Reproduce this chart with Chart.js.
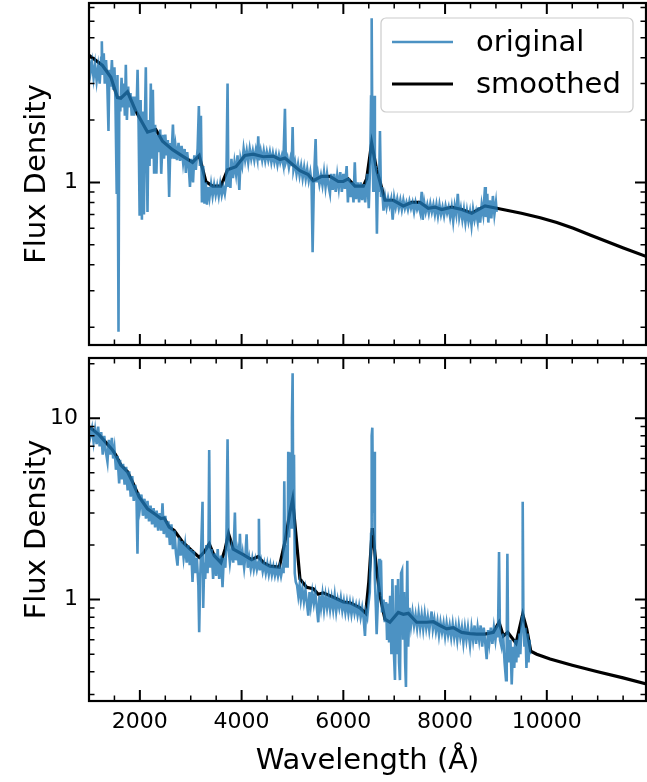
<!DOCTYPE html>
<html>
<head>
<meta charset="utf-8">
<script src="https://cdn.jsdelivr.net/npm/chart.js@4/dist/chart.umd.min.js"></script>
<style>
    body { margin: 0; background: #fff; }
    #wrap { position: relative; width: 647px; height: 782px; }
    canvas { position: absolute; left: 0; }
</style>
</head>
<body>
<div id="wrap">
    <canvas id="canvas1" width="647" height="350" style="top:0;width:647px;height:350px"></canvas>
    <canvas id="canvas2" width="647" height="432" style="top:350px;width:647px;height:432px"></canvas>
</div>
<script>
'use strict';

// axis ticks
const xTicks = [1500, 2000, 2500, 3000, 3500, 4000, 4500, 5000, 5500, 6000, 6500, 7000, 7500, 8000, 8500, 9000, 9500, 10000, 10500, 11000, 11500];
const yTicksTop = [0.2, 0.3, 0.4, 0.5, 0.6, 0.7, 0.8, 0.9, 1, 2, 3, 4, 5, 6, 7];
const yTicksBottom = [0.3, 0.4, 0.5, 0.6, 0.7, 0.8, 0.9, 1, 2, 3, 4, 5, 6, 7, 8, 9, 10, 20];

// top panel: [wavelength, flux]
const topOriginal = [
    [1005, 3.9], [1030, 3.4], [1060, 3.8], [1090, 3.2], [1120, 3.7], [1150, 3.1], [1180, 3.6], [1210, 3.0],
    [1240, 4.0], [1252, 4.8], [1265, 3.3], [1290, 4.2], [1310, 3.0], [1335, 3.9], [1360, 3.0], [1383, 1.77],
    [1400, 3.5], [1425, 2.9], [1450, 3.9], [1475, 2.8], [1500, 3.6], [1520, 2.5], [1545, 0.88], [1560, 3.3],
    [1580, 0.19], [1595, 2.6], [1615, 2.2], [1640, 3.2], [1660, 2.3], [1685, 3.0], [1705, 2.1], [1724, 3.7],
    [1745, 2.0], [1770, 2.9], [1790, 2.3], [1815, 2.7], [1840, 2.1], [1860, 2.6], [1885, 2.1], [1905, 2.6],
    [1935, 2.2], [1955, 3.5], [1975, 1.9], [1995, 0.69], [2015, 2.5], [2040, 0.66], [2060, 2.2], [2080, 0.70],
    [2100, 2.0], [2117, 3.6], [2135, 1.4], [2150, 0.72], [2170, 2.0], [2190, 1.2], [2215, 3.0], [2235, 1.3],
    [2255, 2.8], [2280, 1.1], [2300, 1.9], [2325, 1.1], [2345, 1.7], [2375, 1.4], [2400, 1.8], [2420, 1.1],
    [2450, 1.7], [2475, 1.3], [2500, 1.7], [2525, 1.35], [2550, 1.6], [2576, 0.85], [2600, 1.55], [2620, 1.3],
    [2650, 1.9], [2675, 1.3], [2700, 1.5], [2730, 1.28], [2760, 1.55], [2790, 1.27], [2820, 1.5], [2850, 1.25],
    [2880, 1.45], [2904, 1.11], [2930, 1.4], [2960, 1.2], [2985, 0.95], [3010, 1.3], [3045, 1.0], [3070, 1.35],
    [3100, 1.15], [3135, 1.45], [3160, 2.34], [3180, 1.2], [3200, 2.1], [3220, 0.8], [3245, 1.2], [3270, 0.79],
    [3295, 1.0], [3320, 0.78], [3345, 0.95], [3370, 0.85], [3400, 0.98], [3430, 0.86], [3460, 0.97], [3490, 0.87],
    [3520, 0.96], [3550, 0.86], [3580, 0.98], [3610, 0.87], [3640, 0.95], [3670, 0.88], [3700, 1.0], [3724, 3.0],
    [3740, 0.95], [3760, 1.15], [3780, 0.94], [3800, 1.3], [3830, 1.05], [3860, 1.25], [3890, 1.1], [3920, 1.35],
    [3955, 0.92], [3980, 1.3], [4010, 1.2], [4040, 1.45], [4070, 1.28], [4100, 1.42], [4130, 1.25], [4160, 1.45],
    [4190, 1.3], [4220, 1.42], [4250, 1.28], [4280, 1.43], [4310, 1.3], [4327, 1.67], [4345, 1.28], [4375, 1.42],
    [4405, 1.28], [4435, 1.42], [4465, 1.27], [4495, 1.4], [4525, 1.28], [4555, 1.4], [4585, 1.25], [4615, 1.38],
    [4645, 1.25], [4675, 1.36], [4705, 1.22], [4735, 1.35], [4760, 1.25], [4790, 1.34], [4820, 1.22], [4852, 2.27],
    [4870, 1.25], [4900, 1.32], [4930, 1.18], [4960, 1.3], [4985, 1.2], [5003, 1.85], [5020, 1.15], [5050, 1.25],
    [5080, 1.1], [5110, 1.22], [5140, 1.08], [5170, 1.2], [5200, 1.05], [5230, 1.18], [5260, 1.04], [5290, 1.16],
    [5320, 1.02], [5350, 1.12], [5375, 1.0], [5396, 0.46], [5420, 0.98], [5455, 1.62], [5475, 1.0], [5500, 1.1],
    [5530, 0.98], [5560, 1.08], [5590, 0.97], [5620, 1.12], [5650, 0.95], [5680, 1.1], [5710, 0.96], [5737, 0.885],
    [5760, 1.1], [5790, 0.92], [5820, 1.1], [5850, 0.9], [5880, 1.08], [5910, 0.94], [5940, 1.12], [5970, 0.9],
    [6000, 1.1], [6030, 0.93], [6065, 1.2], [6090, 0.8], [6110, 1.05], [6140, 0.85], [6170, 1.0], [6200, 0.8],
    [6225, 1.25], [6250, 0.83], [6280, 1.0], [6310, 0.8], [6340, 1.0], [6370, 0.82], [6400, 0.98], [6430, 0.8],
    [6470, 1.1], [6500, 0.75], [6530, 1.3], [6545, 2.6], [6557, 6.2], [6570, 1.6], [6590, 0.9], [6603, 2.62],
    [6620, 0.9], [6640, 1.2], [6660, 0.565], [6680, 1.1], [6700, 0.9], [6720, 1.77], [6740, 0.85], [6760, 0.95],
    [6790, 0.73], [6820, 0.85], [6850, 0.76], [6880, 0.84], [6910, 0.77], [6940, 0.83], [6970, 0.66], [7000, 0.84],
    [7030, 0.76], [7060, 0.83], [7090, 0.75], [7120, 0.82], [7150, 0.74], [7180, 0.82], [7210, 0.75], [7240, 0.8],
    [7270, 0.74], [7300, 0.81], [7330, 0.75], [7360, 0.8], [7390, 0.72], [7420, 0.8], [7450, 0.74], [7480, 0.78],
    [7510, 0.72], [7540, 0.9], [7560, 0.66], [7590, 0.8], [7620, 0.72], [7650, 0.78], [7680, 0.71], [7710, 0.79],
    [7740, 0.72], [7770, 0.78], [7800, 0.7], [7830, 0.78], [7860, 0.69], [7890, 0.78], [7920, 0.7], [7950, 0.76],
    [7980, 0.69], [8010, 0.77], [8040, 0.71], [8070, 0.76], [8100, 0.68], [8130, 0.76], [8160, 0.65], [8190, 0.77],
    [8220, 0.7], [8250, 0.88], [8280, 0.68], [8310, 0.75], [8340, 0.66], [8370, 0.74], [8400, 0.64], [8430, 0.73],
    [8460, 0.65], [8490, 0.72], [8520, 0.62], [8550, 0.74], [8580, 0.66], [8610, 0.72], [8640, 0.65], [8660, 0.76],
    [8690, 0.64], [8720, 0.78], [8750, 0.7], [8785, 0.95], [8800, 0.68], [8830, 0.88], [8850, 0.64], [8880, 0.82],
    [8910, 0.67], [8940, 0.86], [8970, 0.7], [9000, 0.8], [9015, 0.72]
];
const topSmoothed = [
    [1000, 4.11], [1265, 3.67], [1430, 3.22], [1560, 2.57], [1625, 2.55], [1757, 2.74], [1920, 2.21], [2150, 1.75],
    [2314, 1.80], [2445, 1.58], [2642, 1.44], [2839, 1.34], [3036, 1.25], [3166, 1.35], [3297, 1.01], [3429, 0.96],
    [3593, 0.96], [3724, 1.15], [3888, 1.19], [4065, 1.35], [4228, 1.37], [4425, 1.33], [4621, 1.34], [4753, 1.29],
    [4851, 1.31], [4983, 1.23], [5146, 1.14], [5310, 1.09], [5408, 1.02], [5573, 1.07], [5737, 1.07], [5900, 1.01],
    [5998, 1.01], [6097, 1.04], [6228, 0.96], [6392, 0.96], [6458, 1.04], [6557, 1.55], [6655, 1.15], [6720, 1.01],
    [6818, 0.82], [6982, 0.82], [7178, 0.77], [7343, 0.80], [7507, 0.80], [7670, 0.75], [7802, 0.76], [7933, 0.74],
    [8130, 0.76], [8327, 0.74], [8524, 0.71], [8786, 0.77], [9016, 0.75], [9500, 0.71], [9871, 0.675], [10196, 0.64],
    [10522, 0.60], [10851, 0.557], [11179, 0.518], [11506, 0.482], [12000, 0.435]
];

// bottom panel: [wavelength, flux]
const bottomOriginal = [
    [1005, 9.0], [1030, 8.0], [1060, 8.8], [1090, 7.4], [1120, 8.6], [1150, 7.2], [1180, 9.0], [1210, 7.0],
    [1240, 8.4], [1270, 6.3], [1300, 8.0], [1330, 6.6], [1363, 5.76], [1390, 7.6], [1420, 6.3], [1450, 7.8],
    [1475, 6.0], [1500, 6.8], [1530, 5.2], [1560, 6.2], [1593, 4.37], [1610, 5.9], [1640, 4.6], [1670, 5.6],
    [1700, 4.3], [1730, 5.4], [1760, 4.0], [1790, 5.1], [1820, 3.7], [1850, 4.8], [1880, 3.5], [1910, 4.3],
    [1935, 3.5], [1953, 1.79], [1970, 3.9], [2000, 3.2], [2030, 3.8], [2060, 2.9], [2090, 3.6], [2120, 2.8],
    [2150, 3.5], [2180, 2.7], [2210, 3.3], [2240, 2.6], [2270, 3.2], [2300, 2.5], [2330, 3.1], [2360, 2.4],
    [2390, 3.0], [2420, 2.4], [2445, 3.4], [2470, 2.3], [2500, 2.9], [2530, 2.2], [2560, 2.7], [2590, 2.0],
    [2620, 2.6], [2650, 1.9], [2680, 2.4], [2710, 1.8], [2740, 1.54], [2770, 2.2], [2800, 1.75], [2830, 2.1],
    [2860, 1.7], [2890, 2.0], [2920, 1.6], [2950, 2.0], [2980, 1.55], [3010, 1.9], [3035, 1.25], [3060, 1.85],
    [3090, 1.4], [3120, 1.7], [3150, 1.2], [3166, 0.66], [3185, 1.3], [3205, 1.9], [3232, 3.46], [3245, 0.9],
    [3265, 1.6], [3285, 1.3], [3305, 2.0], [3330, 1.4], [3350, 2.1], [3363, 6.68], [3380, 1.5], [3410, 1.9],
    [3440, 1.3], [3470, 1.8], [3500, 1.35], [3530, 1.9], [3560, 1.3], [3595, 1.75], [3625, 1.17], [3650, 1.7],
    [3680, 1.5], [3700, 2.0], [3724, 7.65], [3745, 1.9], [3770, 1.6], [3800, 1.9], [3836, 1.6], [3868, 3.02],
    [3890, 1.65], [3920, 1.85], [3945, 1.55], [3967, 2.31], [3990, 1.55], [4020, 1.8], [4050, 1.5], [4075, 1.75],
    [4098, 2.29], [4120, 1.5], [4150, 1.7], [4180, 1.48], [4210, 1.68], [4240, 1.47], [4270, 1.65], [4300, 1.47],
    [4325, 1.6], [4340, 2.79], [4355, 1.45], [4385, 1.62], [4415, 1.43], [4445, 1.58], [4475, 1.4], [4505, 1.57],
    [4535, 1.38], [4565, 1.55], [4595, 1.37], [4625, 1.52], [4655, 1.36], [4685, 1.5], [4715, 1.35], [4745, 1.5],
    [4775, 1.35], [4805, 1.5], [4825, 1.4], [4839, 4.49], [4855, 1.5], [4880, 2.0], [4905, 1.5], [4917, 6.54],
    [4935, 2.2], [4960, 6.5], [4975, 2.5], [4990, 10.0], [5003, 17.7], [5015, 3.0], [5030, 6.3], [5045, 1.4],
    [5065, 1.25], [5090, 1.2], [5115, 1.05], [5140, 1.2], [5165, 1.0], [5195, 1.15], [5225, 0.98], [5255, 1.13],
    [5285, 0.95], [5311, 0.815], [5335, 1.1], [5360, 0.93], [5390, 1.1], [5420, 0.95], [5450, 1.08], [5480, 0.9],
    [5507, 0.75], [5530, 1.05], [5560, 0.9], [5590, 1.07], [5620, 0.88], [5650, 1.05], [5680, 0.9], [5710, 1.04],
    [5740, 0.88], [5770, 1.02], [5800, 0.88], [5830, 1.05], [5860, 0.86], [5890, 1.0], [5920, 0.9], [5950, 1.02],
    [5980, 0.87], [6010, 0.98], [6040, 0.85], [6070, 0.97], [6100, 0.84], [6130, 0.96], [6160, 0.83], [6190, 0.95],
    [6220, 0.84], [6250, 0.93], [6280, 0.82], [6310, 0.92], [6340, 0.8], [6370, 0.9], [6400, 0.78], [6425, 0.63],
    [6445, 0.85], [6470, 0.8], [6491, 0.93], [6520, 1.1], [6545, 2.3], [6557, 8.0], [6570, 8.87], [6585, 3.0],
    [6603, 6.54], [6620, 1.3], [6640, 0.9], [6655, 0.645], [6680, 1.0], [6707, 1.68], [6720, 1.1], [6740, 1.65],
    [6760, 0.85], [6790, 1.0], [6815, 0.75], [6840, 0.97], [6860, 0.6], [6880, 0.95], [6900, 0.58], [6920, 1.05],
    [6945, 0.5], [6965, 1.3], [6990, 0.55], [7015, 0.36], [7035, 1.2], [7055, 0.5], [7075, 1.3], [7095, 0.45],
    [7113, 0.36], [7135, 1.4], [7155, 1.45], [7175, 0.6], [7195, 1.1], [7215, 0.45], [7231, 0.33], [7245, 0.9],
    [7257, 1.64], [7275, 0.55], [7300, 0.9], [7330, 0.72], [7360, 0.85], [7390, 0.72], [7420, 0.82], [7450, 0.7],
    [7480, 0.84], [7510, 0.7], [7540, 0.82], [7570, 0.69], [7600, 0.83], [7630, 0.7], [7660, 0.8], [7690, 0.68],
    [7735, 0.86], [7760, 0.69], [7790, 0.78], [7820, 0.67], [7850, 0.76], [7880, 0.64], [7910, 0.75], [7940, 0.66],
    [7970, 0.74], [8000, 0.63], [8030, 0.74], [8060, 0.64], [8090, 0.72], [8120, 0.62], [8150, 0.73], [8180, 0.62],
    [8210, 0.71], [8240, 0.6], [8270, 0.72], [8300, 0.62], [8330, 0.7], [8360, 0.58], [8390, 0.7], [8420, 0.6],
    [8450, 0.7], [8490, 0.56], [8520, 0.7], [8550, 0.6], [8580, 0.72], [8610, 0.57], [8640, 0.7], [8670, 0.6],
    [8700, 0.72], [8730, 0.55], [8760, 0.7], [8790, 0.58], [8818, 0.47], [8845, 0.68], [8870, 0.58], [8900, 0.7],
    [8930, 0.57], [8960, 0.7], [8990, 0.6], [9020, 0.72], [9040, 0.62], [9061, 1.83], [9080, 0.6], [9110, 0.55],
    [9140, 0.65], [9170, 0.45], [9198, 0.36], [9212, 0.6], [9225, 1.79], [9240, 0.55], [9260, 0.45], [9285, 0.6],
    [9310, 0.34], [9335, 0.55], [9360, 0.42], [9380, 0.6], [9400, 0.45], [9420, 0.6], [9440, 0.48], [9460, 0.65],
    [9480, 0.5], [9500, 0.7], [9515, 0.8], [9526, 3.46], [9540, 0.75], [9560, 0.55], [9580, 0.7], [9600, 0.42],
    [9620, 0.65], [9640, 0.45], [9660, 0.6], [9670, 0.5]
];
const bottomSmoothed = [
    [1000, 8.99], [1199, 8.1], [1330, 7.37], [1462, 6.68], [1527, 6.27], [1625, 5.52], [1757, 5.07], [1855, 4.46],
    [1986, 3.68], [2150, 3.17], [2314, 2.94], [2412, 2.80], [2478, 2.82], [2576, 2.51], [2675, 2.41], [2839, 2.08],
    [2970, 1.92], [3166, 1.71], [3265, 1.83], [3363, 2.03], [3461, 1.75], [3593, 1.60], [3678, 1.91], [3743, 2.31],
    [3836, 1.90], [4032, 1.77], [4196, 1.66], [4327, 1.73], [4426, 1.60], [4557, 1.53], [4740, 1.51], [4852, 2.08],
    [4950, 3.04], [5003, 3.58], [5081, 2.08], [5147, 1.30], [5278, 1.17], [5409, 1.15], [5507, 1.07], [5606, 1.09],
    [5803, 1.03], [6000, 0.97], [6130, 0.96], [6327, 0.90], [6440, 0.84], [6500, 1.25], [6570, 2.48], [6655, 1.45],
    [6720, 1.05], [6818, 0.78], [6916, 0.75], [7080, 0.85], [7179, 0.83], [7277, 0.84], [7441, 0.75], [7638, 0.75],
    [7769, 0.755], [7900, 0.72], [8031, 0.69], [8162, 0.70], [8326, 0.66], [8490, 0.65], [8621, 0.645], [8785, 0.645],
    [8949, 0.66], [9061, 0.75], [9146, 0.63], [9231, 0.66], [9395, 0.575], [9526, 0.83], [9605, 0.69], [9684, 0.52],
    [9802, 0.50], [10064, 0.47], [10500, 0.435], [11000, 0.40], [11500, 0.37], [12000, 0.34]
];

Chart.defaults.font.family = "'DejaVu Sans', sans-serif";
Chart.defaults.color = '#000';

const blue = 'rgba(31, 119, 180, 0.8)';

function isDecade(v) {
    let l = Math.log10(v);
    return Math.abs(l - Math.round(l)) < 1e-6;
}

// no automatic label padding around the plot box
function noPadding(s) {
    s.paddingTop = 0;
    s.paddingBottom = 0;
    s.paddingLeft = 0;
    s.paddingRight = 0;
}

// spines and inward ticks on all four sides, like matplotlib direction='in'
const frameTicks = {
    id: 'frameTicks',
    afterDatasetsDraw(chart) {
        let ctx = chart.ctx;
        let a = chart.chartArea;
        let xs = chart.scales.x;
        let ys = chart.scales.y;
        ctx.save();
        ctx.strokeStyle = '#000';
        for (let t of xs.ticks) {
            let px = xs.getPixelForValue(t.value);
            let major = t.value % 2000 === 0;
            let len = major ? 11 : 5.5;
            ctx.lineWidth = major ? 2 : 1.5;
            ctx.beginPath();
            ctx.moveTo(px, a.bottom);
            ctx.lineTo(px, a.bottom - len);
            ctx.moveTo(px, a.top);
            ctx.lineTo(px, a.top + len);
            ctx.stroke();
        }
        for (let t of ys.ticks) {
            let py = ys.getPixelForValue(t.value);
            let major = isDecade(t.value);
            let len = major ? 11 : 5.5;
            ctx.lineWidth = major ? 2 : 1.5;
            ctx.beginPath();
            ctx.moveTo(a.left, py);
            ctx.lineTo(a.left + len, py);
            ctx.moveTo(a.right, py);
            ctx.lineTo(a.right - len, py);
            ctx.stroke();
        }
        ctx.lineWidth = 2.2;
        ctx.strokeRect(a.left, a.top, a.right - a.left, a.bottom - a.top);
        ctx.restore();
    }
};

// legend box in the upper right of the top panel
const insideLegend = {
    id: 'insideLegend',
    afterDraw(chart) {
        let ctx = chart.ctx;
        let x0 = 381, y0 = 18, w = 252, h = 94, r = 5;
        ctx.save();
        ctx.beginPath();
        ctx.moveTo(x0 + r, y0);
        ctx.arcTo(x0 + w, y0, x0 + w, y0 + h, r);
        ctx.arcTo(x0 + w, y0 + h, x0, y0 + h, r);
        ctx.arcTo(x0, y0 + h, x0, y0, r);
        ctx.arcTo(x0, y0, x0 + w, y0, r);
        ctx.closePath();
        ctx.fillStyle = 'rgba(255,255,255,0.8)';
        ctx.fill();
        ctx.strokeStyle = '#cccccc';
        ctx.lineWidth = 1.2;
        ctx.stroke();
        let rows = [42, 84];
        chart.data.datasets.forEach((ds, i) => {
            ctx.strokeStyle = ds.borderColor;
            ctx.lineWidth = ds.borderWidth;
            ctx.beginPath();
            ctx.moveTo(392, rows[i]);
            ctx.lineTo(453, rows[i]);
            ctx.stroke();
            ctx.fillStyle = '#000';
            ctx.font = "29px 'DejaVu Sans'";
            ctx.textBaseline = 'middle';
            ctx.fillText(ds.label, 476, rows[i] + 1);
        });
        ctx.restore();
    }
};

function makeChart(canvas, original, smoothed, yMin, yMax, yTicks, bottomPanel) {
    let plugins = [frameTicks];
    if (!bottomPanel) {
        plugins.push(insideLegend);
    }
    return new Chart(canvas, {
        type: 'line',
        data: {
            datasets: [
                {
                    label: 'original',
                    data: original,
                    borderColor: blue,
                    borderWidth: 2.6,
                    pointRadius: 0,
                    tension: 0,
                },
                {
                    label: 'smoothed',
                    data: smoothed,
                    borderColor: '#000',
                    borderWidth: 3.2,
                    pointRadius: 0,
                    tension: 0,
                },
            ],
        },
        options: {
            responsive: false,
            animation: false,
            devicePixelRatio: 1,
            layout: {
                autoPadding: false,
                padding: { top: bottomPanel ? 8 : 3, right: 1, left: 0, bottom: 0 },
            },
            plugins: {
                legend: { display: false },
                tooltip: { enabled: false },
            },
            scales: {
                x: {
                    type: 'linear',
                    min: 1000,
                    max: 11950,
                    afterBuildTicks: s => { s.ticks = xTicks.map(v => ({ value: v })); },
                    afterFit: s => {
                        s.height = bottomPanel ? 81 : 5;
                        noPadding(s);
                    },
                    grid: { display: false, drawTicks: false },
                    border: { display: false },
                    ticks: {
                        autoSkip: false,
                        maxRotation: 0,
                        padding: 8,
                        font: { size: 22 },
                        callback: v => (bottomPanel && v % 2000 === 0) ? String(v) : '',
                    },
                    title: {
                        display: bottomPanel,
                        text: 'Wavelength (Å)',
                        font: { size: 29 },
                        padding: { top: 0, bottom: 3 },
                    },
                },
                y: {
                    type: 'logarithmic',
                    min: yMin,
                    max: yMax,
                    afterBuildTicks: s => { s.ticks = yTicks.map(v => ({ value: v })); },
                    afterFit: s => {
                        s.width = 89;
                        noPadding(s);
                    },
                    grid: { display: false, drawTicks: false },
                    border: { display: false },
                    ticks: {
                        autoSkip: false,
                        padding: 11,
                        font: { size: 22 },
                        callback: v => isDecade(v) ? String(Math.round(v)) : '',
                    },
                    title: {
                        display: true,
                        text: 'Flux Density',
                        font: { size: 29 },
                        padding: { top: 20, bottom: 0 },
                    },
                },
            },
        },
        plugins: plugins,
    });
}

let canvas1 = document.querySelector('#canvas1');
let canvas2 = document.querySelector('#canvas2');

let chart1 = makeChart(canvas1, topOriginal, topSmoothed, 0.164, 7.35, yTicksTop, false);
let chart2 = makeChart(canvas2, bottomOriginal, bottomSmoothed, 0.276, 21.5, yTicksBottom, true);
</script>
</body>
</html>
